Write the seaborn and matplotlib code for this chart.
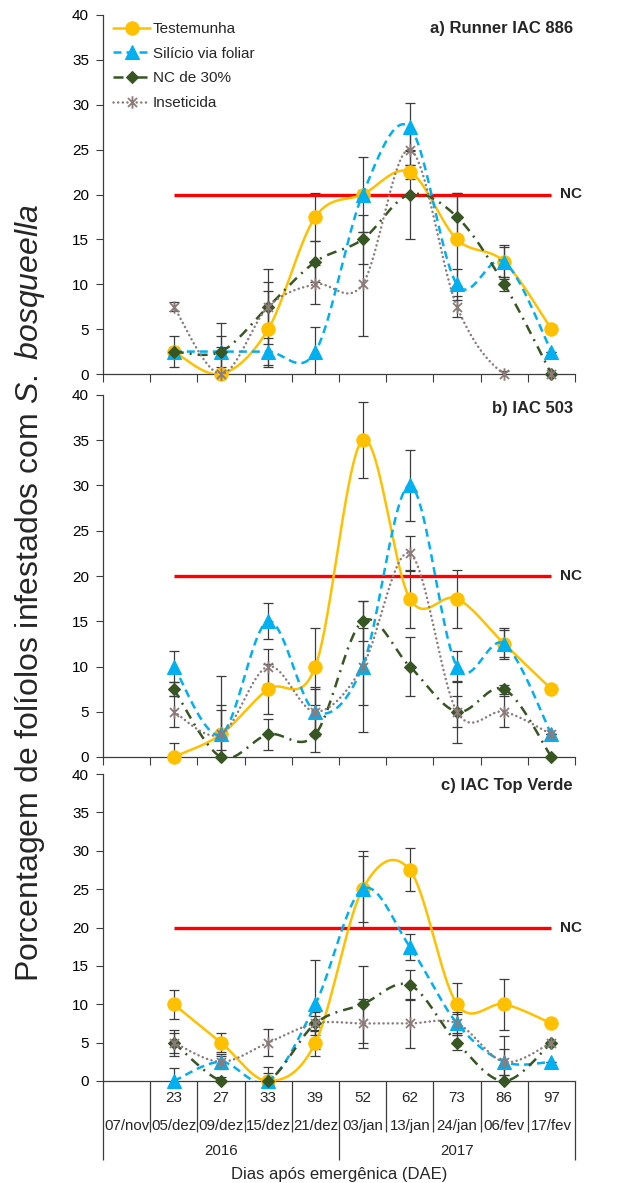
import numpy as np
import matplotlib
matplotlib.use("Agg")
import matplotlib.pyplot as plt
import seaborn as sns
from matplotlib.lines import Line2D
from matplotlib.path import Path
from matplotlib import transforms

sns.set_theme(style="white")
plt.rcParams["font.family"] = ["Liberation Sans", "DejaVu Sans"]
plt.rcParams["mathtext.fontset"] = "custom"
plt.rcParams["mathtext.rm"] = "Liberation Sans"
plt.rcParams["mathtext.it"] = "Liberation Sans:italic"

# ---------------- data ----------------
dates = ["07/nov", "05/dez", "09/dez", "15/dez", "21/dez", "03/jan",
         "13/jan", "24/jan", "06/fev", "17/fev"]
dae = ["", "23", "27", "33", "39", "52", "62", "73", "86", "97"]
years = ["2016", "2017"]
sample_idx = [1, 2, 3, 4, 5, 6, 7, 8, 9]   # sampled dates (07/nov has no sample)
nc_level = 20

series_names = ["Testemunha", "Silício via foliar", "NC de 30%", "Inseticida"]

# a) Runner IAC 886
a_testemunha = [2.5, 0, 5, 17.5, 20, 22.5, 15, 12.5, 5]
a_silicio    = [2.5, 2.5, 2.5, 2.5, 20, 27.5, 10, 12.5, 2.5]
a_nc30       = [2.5, 2.5, 7.5, 12.5, 15, 20, 17.5, 10, 0]
a_inseticida = [7.5, 0, 7.5, 10, 10, 25, 7.5, 0, 0]
a_err_testemunha = [1.7, 3.0, 4.2, 2.7, 4.2, 0.8, 5.2, 1.9, 0]
a_err_silicio    = [0.3, 1.7, 1.5, 2.7, 0.5, 2.7, 1.7, 1.7, 0]
a_err_nc30       = [0.5, 3.2, 2.7, 2.3, 2.7, 5.0, 2.7, 0.8, 0]
a_err_inseticida = [0.5, 0.5, 4.2, 2.2, 5.8, 1.7, 1.2, 0.3, 0]

# b) IAC 503
b_testemunha = [0, 2.5, 7.5, 10, 35, 17.5, 17.5, 12.5, 7.5]
b_silicio    = [10, 2.5, 15, 5, 10, 30, 10, 12.5, 2.5]
b_nc30       = [7.5, 0, 2.5, 2.5, 15, 10, 5, 7.5, 0]
b_inseticida = [5, 2.5, 10, 5, 10, 22.5, 5, 5, 2.5]
b_err_testemunha = [1.6, 2.7, 2.8, 4.3, 4.2, 3.2, 3.2, 1.5, 0]
b_err_silicio    = [1.7, 3.2, 2.0, 2.7, 4.2, 3.9, 1.7, 1.7, 0]
b_err_nc30       = [0.8, 0.8, 1.7, 2.0, 2.2, 3.3, 3.4, 0.5, 0]
b_err_inseticida = [1.7, 6.4, 1.9, 2.5, 7.2, 1.9, 1.7, 1.7, 0]

# c) IAC Top Verde
c_testemunha = [10, 5, 0, 5, 25, 27.5, 10, 10, 7.5]
c_silicio    = [0, 2.5, 0, 10, 25, 17.5, 7.5, 2.5, 2.5]
c_nc30       = [5, 0, 0, 7.5, 10, 12.5, 5, 0, 5]
c_inseticida = [5, 2.5, 5, 7.5, 7.5, 7.5, 7.5, 2.5, 5]
c_err_testemunha = [1.9, 1.2, 1.8, 1.7, 5.0, 2.8, 2.8, 3.3, 0]
c_err_silicio    = [1.7, 0.8, 0.5, 5.8, 4.3, 1.7, 1.5, 1.7, 0]
c_err_nc30       = [1.7, 0.5, 1.0, 1.5, 5.0, 1.9, 1.0, 0.8, 0]
c_err_inseticida = [1.3, 1.0, 1.8, 1.0, 3.2, 3.2, 1.2, 3.3, 0]

panels = [
    ("a) Runner IAC 886",
     [a_testemunha, a_silicio, a_nc30, a_inseticida],
     [a_err_testemunha, a_err_silicio, a_err_nc30, a_err_inseticida]),
    ("b) IAC 503",
     [b_testemunha, b_silicio, b_nc30, b_inseticida],
     [b_err_testemunha, b_err_silicio, b_err_nc30, b_err_inseticida]),
    ("c) IAC Top Verde",
     [c_testemunha, c_silicio, c_nc30, c_inseticida],
     [c_err_testemunha, c_err_silicio, c_err_nc30, c_err_inseticida]),
]

# ---------------- styles ----------------
asterisk = Path([(-0.72, -0.72), (0.72, 0.72), (-0.72, 0.72), (0.72, -0.72),
                 (0, -1), (0, 1)],
                [Path.MOVETO, Path.LINETO] * 3)

styles = [
    dict(color="#FFC000", ls="-", marker="o", ms=9.6, mew=0.8, mfc="#FFC000", capstyle="butt"),
    dict(color="#00B0F0", ls=(0, (3.2, 2.0)), marker="^", ms=9.6, mew=0.8, mfc="#00B0F0", capstyle="butt"),
    dict(color="#375623", ls=(0, (4.0, 2.4, 0.8, 2.4)), marker="D", ms=5.8, mew=0.8, mfc="#375623", capstyle="butt"),
    dict(color="#8C7B7B", ls=(0, (0.05, 1.8)), marker=asterisk, ms=9.0, mew=1.3, mfc="none", capstyle="round"),
]
line_w = 1.8
axis_col = "#3C3C3C"


def smooth_curve(xv, yv, n=40):
    """Smoothed line through the points: Catmull-Rom segments as cubic Beziers."""
    P = np.column_stack([xv, yv]).astype(float)
    ext = np.vstack([P[0], P, P[-1]])
    t = np.linspace(0, 1, n, endpoint=False)[:, None]
    pieces = []
    for i in range(len(P) - 1):
        p0, p1, p2, p3 = ext[i], ext[i + 1], ext[i + 2], ext[i + 3]
        c1 = p1 + (p2 - p0) / 6.0
        c2 = p2 - (p3 - p1) / 6.0
        pieces.append((1 - t) ** 3 * p1 + 3 * (1 - t) ** 2 * t * c1
                      + 3 * (1 - t) * t ** 2 * c2 + t ** 3 * p2)
    pieces.append(P[-1:])
    return np.vstack(pieces)


# ---------------- figure ----------------
W, H = 638, 1183
fig = plt.figure(figsize=(W / 100, H / 100), dpi=100)
left_px, right_px = 103, 575
rects_px = [(15, 374), (395, 757), (774, 1081)]
boundaries = np.arange(-0.5, 10.0, 1.0)

axes = []
for (top, bottom) in rects_px:
    ax = fig.add_axes([left_px / W, 1 - bottom / H,
                       (right_px - left_px) / W, (bottom - top) / H])
    axes.append(ax)

for k, (ax, (title, values, errors)) in enumerate(zip(axes, panels)):
    ax.set_xlim(-0.5, 9.5)
    ax.set_ylim(0, 40)
    ax.set_yticks(range(0, 41, 5))
    ax.set_xticks(boundaries)
    ax.set_xticklabels([])
    for side in ("top", "right"):
        ax.spines[side].set_visible(False)
    for side in ("left", "bottom"):
        ax.spines[side].set_color(axis_col)
        ax.spines[side].set_linewidth(0.9)
    ax.tick_params(axis="y", left=True, labelsize=11, length=5, width=0.8,
                   color=axis_col, direction="out", pad=5, labelcolor="black")
    ax.tick_params(axis="x", bottom=True, length=6 if k < 2 else 0, width=0.8,
                   color=axis_col, direction="out")
    ax.set_xlabel("")
    ax.set_ylabel("")

    # economic threshold (NC)
    ax.plot([sample_idx[0], sample_idx[-1]], [nc_level, nc_level],
            color="#FF0000", lw=2.4, zorder=2.5, solid_capstyle="butt")
    ax.text(9.18, nc_level, "NC", fontsize=11, fontweight="bold",
            ha="left", va="center", clip_on=False)

    # error bars
    for vals, err in zip(values, errors):
        ax.errorbar(sample_idx, vals, yerr=err, fmt="none", ecolor=axis_col,
                    elinewidth=0.9, capsize=3.3, capthick=0.9, zorder=2)

    # smoothed series lines and markers
    for j, vals in enumerate(values):
        st = styles[j]
        curve = smooth_curve(sample_idx, vals)
        sns.lineplot(x=curve[:, 0], y=curve[:, 1], ax=ax, sort=False,
                     estimator=None, color=st["color"], lw=line_w,
                     linestyle=st["ls"], dash_capstyle=st["capstyle"],
                     zorder=3 + 0.1 * j)
        ax.plot(sample_idx, vals, ls="none", marker=st["marker"], ms=st["ms"],
                mfc=st["mfc"], mec=st["color"], mew=st["mew"],
                clip_on=False, zorder=3.05 + 0.1 * j)

    ax.text(9.45, 0.962, title, transform=ax.get_xaxis_transform(),
            fontsize=12, fontweight="bold", ha="right", va="center")

# legend in the first panel
handles = []
for j, name in enumerate(series_names):
    st = styles[j]
    handles.append(Line2D([], [], color=st["color"], lw=line_w, ls=st["ls"],
                          dash_capstyle=st["capstyle"], marker=st["marker"],
                          ms=st["ms"], mfc=st["mfc"], mec=st["color"],
                          mew=st["mew"], label=name))
axes[0].legend(handles=handles, loc="upper left", bbox_to_anchor=(0.007, 1),
               frameon=False, fontsize=11, handlelength=2.4,
               handletextpad=0.2, labelspacing=0.70, borderaxespad=0.05)

# multi-level category axis under the last panel
axc = axes[2]
base = axc.get_xaxis_transform()
axc_h = rects_px[2][1] - rects_px[2][0]


def below(px):
    return transforms.offset_copy(base, fig=fig, x=0, y=-px, units="dots")


for i, b in enumerate(boundaries):
    depth = 79 if i in (0, 5, 10) else 51
    axc.plot([b, b], [0, -depth / axc_h], transform=base, color=axis_col,
             lw=0.9, clip_on=False, solid_capstyle="butt")

for i, (d, lab) in enumerate(zip(dae, dates)):
    axc.text(i, 0, d, transform=below(17), fontsize=11, ha="center", va="center")
    axc.text(i, 0, lab, transform=below(45), fontsize=10.8, ha="center", va="center")
for yr, xc in zip(years, [2.0, 7.0]):
    axc.text(xc, 0, yr, transform=below(70), fontsize=10.8, ha="center", va="center")
axc.text(4.5, 0, "Dias após emergênica (DAE)", transform=below(94),
         fontsize=12, ha="center", va="center")

fig.text(30 / W, 1 - 593 / H,
         r"Porcentagem de folíolos infestados com $\mathit{S.\ bosqueella}$",
         rotation=90, ha="center", va="center", fontsize=23)

fig.savefig("out.png", dpi=100)
